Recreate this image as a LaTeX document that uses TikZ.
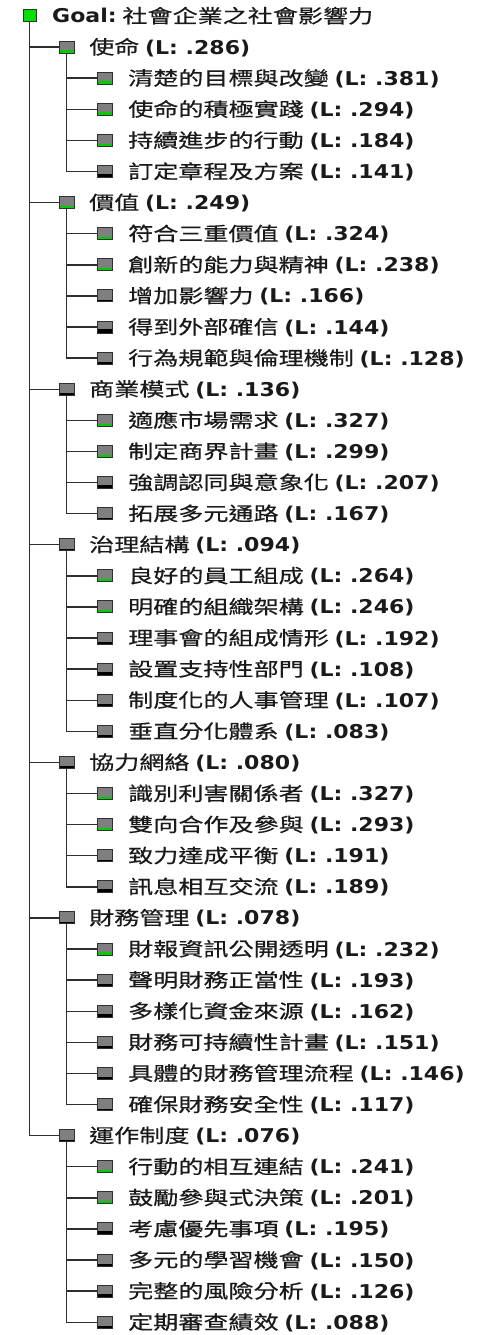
\documentclass[tikz,border=0pt]{standalone}
\usepackage{fontspec}
\newfontfamily\cjk[FakeStretch=1.32,FakeBold=0.4]{Noto Sans CJK TC}
\newfontfamily\lat[FakeStretch=1.16]{DejaVu Sans}
\definecolor{icg}{HTML}{7F7F7F}
\definecolor{icb}{HTML}{303030}
\definecolor{barg}{HTML}{00CC00}
\definecolor{goalg}{HTML}{00E000}
\definecolor{txtc}{HTML}{1A1A1A}
\definecolor{lnc}{HTML}{2E2E2E}
\tikzset{
  icon/.style={draw=icb, fill=icg, line width=1pt, minimum width=15pt, minimum height=12pt, inner sep=0pt},
  gthin/.style={path picture={\fill[barg] (path picture bounding box.south west) rectangle ([yshift=2.8pt]path picture bounding box.south east);}},
  gthick/.style={path picture={\fill[barg] (path picture bounding box.south west) rectangle ([yshift=3.6pt]path picture bounding box.south east);}},
  kthin/.style={path picture={\fill[black] (path picture bounding box.south west) rectangle ([yshift=2pt]path picture bounding box.south east);}},
  kthick/.style={path picture={\fill[black] (path picture bounding box.south west) rectangle ([yshift=3.6pt]path picture bounding box.south east);}},
  txt/.style={anchor=base west, inner sep=0pt, text=txtc, font=\fontsize{19pt}{22pt}\selectfont},
  conn/.style={draw=lnc, line width=1.4pt}
}
\newcommand\mkcat[5]{%
  \node[icon,#5] (#1) at (66.5,{-(16+31.1*#2)}) {};
  \node[txt] (#1t) at (89,{-(16+31.1*#2)-7}) {{\cjk #3}\ {\lat\bfseries(L: #4)}};
  \draw[conn] (goal.south) |- (#1.west);
}
\newcommand\mkchild[6]{%
  \node[icon,#6] (#2) at (104.5,{-(16+31.1*#3)}) {};
  \node[txt] (#2t) at (128,{-(16+31.1*#3)-7}) {{\cjk #4}\ {\lat\bfseries(L: #5)}};
  \draw[conn] (#1.south) |- (#2.west);
}
\begin{document}
\begin{tikzpicture}[x=1pt,y=1pt]
\useasboundingbox[fill=white] (0,0) rectangle (487,-1335);
\node[icon, fill=goalg, minimum width=13pt, minimum height=12pt] (goal) at (29.5,-16) {};
\node[txt] (goalt) at (52,-23) {{\lat\bfseries Goal:}\ {\cjk 社會企業之社會影響力}};
% 使命
\mkcat{a}{1}{使命}{.286}{gthin}
\mkchild{a}{a1}{2}{清楚的目標與改變}{.381}{gthick}
\mkchild{a}{a2}{3}{使命的積極實踐}{.294}{gthin}
\mkchild{a}{a3}{4}{持續進步的行動}{.184}{gthin}
\mkchild{a}{a4}{5}{訂定章程及方案}{.141}{kthick}
% 價值
\mkcat{b}{6}{價值}{.249}{gthin}
\mkchild{b}{b1}{7}{符合三重價值}{.324}{gthin}
\mkchild{b}{b2}{8}{創新的能力與精神}{.238}{gthin}
\mkchild{b}{b3}{9}{增加影響力}{.166}{kthin}
\mkchild{b}{b4}{10}{得到外部確信}{.144}{kthick}
\mkchild{b}{b5}{11}{行為規範與倫理機制}{.128}{kthin}
% 商業模式
\mkcat{c}{12}{商業模式}{.136}{kthin}
\mkchild{c}{c1}{13}{適應市場需求}{.327}{gthin}
\mkchild{c}{c2}{14}{制定商界計畫}{.299}{gthin}
\mkchild{c}{c3}{15}{強調認同與意象化}{.207}{kthick}
\mkchild{c}{c4}{16}{拓展多元通路}{.167}{kthin}
% 治理結構
\mkcat{d}{17}{治理結構}{.094}{kthin}
\mkchild{d}{d1}{18}{良好的員工組成}{.264}{gthin}
\mkchild{d}{d2}{19}{明確的組織架構}{.246}{gthin}
\mkchild{d}{d3}{20}{理事會的組成情形}{.192}{kthin}
\mkchild{d}{d4}{21}{設置支持性部門}{.108}{kthick}
\mkchild{d}{d5}{22}{制度化的人事管理}{.107}{kthin}
\mkchild{d}{d6}{23}{垂直分化體系}{.083}{kthin}
% 協力網絡
\mkcat{e}{24}{協力網絡}{.080}{kthin}
\mkchild{e}{e1}{25}{識別利害關係者}{.327}{gthin}
\mkchild{e}{e2}{26}{雙向合作及參與}{.293}{gthin}
\mkchild{e}{e3}{27}{致力達成平衡}{.191}{kthin}
\mkchild{e}{e4}{28}{訊息相互交流}{.189}{kthick}
% 財務管理
\mkcat{f}{29}{財務管理}{.078}{kthin}
\mkchild{f}{f1}{30}{財報資訊公開透明}{.232}{gthin}
\mkchild{f}{f2}{31}{聲明財務正當性}{.193}{kthin}
\mkchild{f}{f3}{32}{多樣化資金來源}{.162}{kthick}
\mkchild{f}{f4}{33}{財務可持續性計畫}{.151}{kthin}
\mkchild{f}{f5}{34}{具體的財務管理流程}{.146}{kthin}
\mkchild{f}{f6}{35}{確保財務安全性}{.117}{kthin}
% 運作制度
\mkcat{g}{36}{運作制度}{.076}{kthin}
\mkchild{g}{g1}{37}{行動的相互連結}{.241}{gthin}
\mkchild{g}{g2}{38}{鼓勵參與式決策}{.201}{gthin}
\mkchild{g}{g3}{39}{考慮優先事項}{.195}{kthick}
\mkchild{g}{g4}{40}{多元的學習機會}{.150}{kthin}
\mkchild{g}{g5}{41}{完整的風險分析}{.126}{kthick}
\mkchild{g}{g6}{42}{定期審查績效}{.088}{kthin}
\end{tikzpicture}
\end{document}
